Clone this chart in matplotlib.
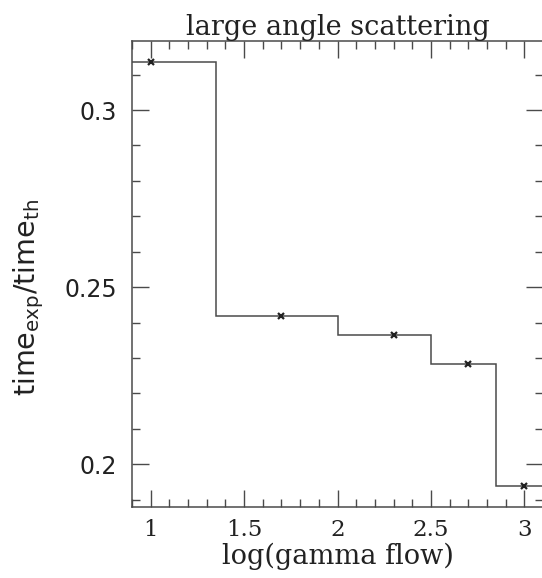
import numpy as np
import matplotlib
matplotlib.use("Agg")
import matplotlib.pyplot as plt
from matplotlib.ticker import MultipleLocator

# log10 of the gamma flow for each bin and the measured time ratio
log_flow = [1.0, 1.7, 2.3, 2.7, 3.0]
time_ratio = [0.3135, 0.2417, 0.2364, 0.2283, 0.1939]

title = "large angle scattering"
xlabel = "log(gamma flow)"
ylabel = r"time$_{\mathrm{exp}}$/time$_{\mathrm{th}}$"
xticks = [1, 1.5, 2, 2.5, 3]
xtick_labels = ["1", "1.5", "2", "2.5", "3"]
yticks = [0.2, 0.25, 0.3]
ytick_labels = ["0.2", "0.25", "0.3"]

plt.rcParams["mathtext.fontset"] = "dejavusans"

fig = plt.figure(figsize=(5.42, 5.78), dpi=100)
W, H = 542, 578
left, right, top, bottom = 132, 543, 41, 507
ax = fig.add_axes([left / W, 1 - bottom / H, (right - left) / W, (bottom - top) / H])

# bin edges halfway between neighbouring points, outer bins mirrored
x = np.array(log_flow)
mids = (x[:-1] + x[1:]) / 2
edges = np.concatenate([[x[0] - (mids[0] - x[0])], mids, [x[-1] + (x[-1] - mids[-1])]])

line_col = "#4a4a4a"
ax.stairs(time_ratio, edges, baseline=None, color=line_col, lw=1.1)
ax.plot(log_flow, time_ratio, ls="none", marker="x", ms=4, mew=1.6, color="#222222")

ax.set_xlim(0.9, 3.1)
ax.set_ylim(0.1879, 0.3195)

ax.set_xticks(xticks)
ax.set_xticklabels(xtick_labels, family="DejaVu Serif", fontsize=16.5, color="#222222")
ax.set_yticks(yticks)
ax.set_yticklabels(ytick_labels, family="DejaVu Sans", fontsize=17, color="#222222")
ax.xaxis.set_minor_locator(MultipleLocator(0.1))
ax.yaxis.set_minor_locator(MultipleLocator(0.01))
ax.tick_params(which="both", direction="in", top=True, right=True, color=line_col, width=1.0)
ax.tick_params(which="major", length=12.5, pad=9)
ax.tick_params(which="minor", length=6)
ax.tick_params(axis="y", which="major", pad=11)

for s in ax.spines.values():
    s.set_color(line_col)
    s.set_linewidth(1.1)
ax.spines["right"].set_visible(False)

ax.set_title(title, family="DejaVu Serif", fontsize=19.5, pad=1, color="#222222")
ax.set_xlabel(xlabel, family="DejaVu Serif", fontsize=19.5, labelpad=1, color="#222222")
ax.set_ylabel(ylabel, family="DejaVu Sans", fontsize=20.5, color="#222222")
ax.yaxis.set_label_coords(-0.21, 0.45)

fig.savefig("out.png", dpi=100)
